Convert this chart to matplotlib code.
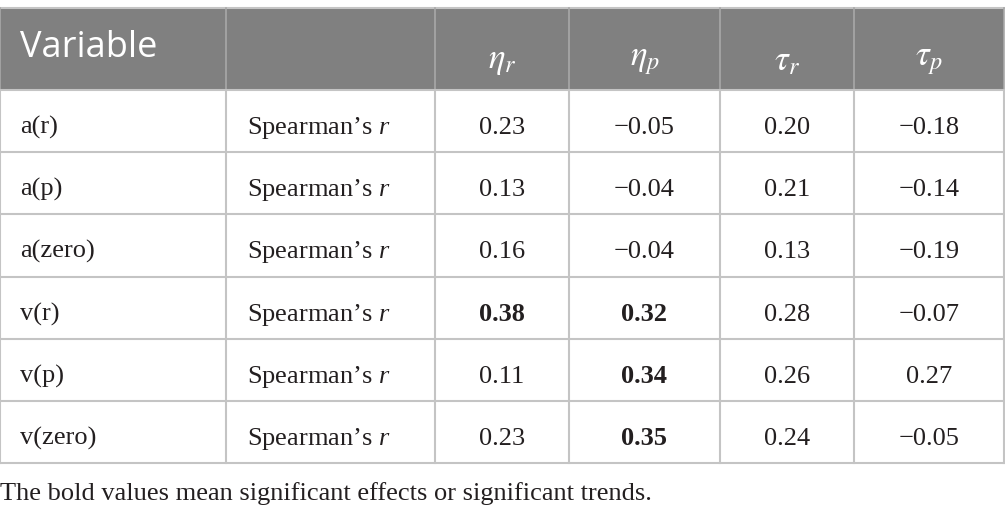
import matplotlib.pyplot as plt
from matplotlib.patches import Rectangle

variables = ["a(r)", "a(p)", "a(zero)", "v(r)", "v(p)", "v(zero)"]
statistic = ["Spearman’s $\\mathit{r}$"] * 6
eta_r = ["0.23", "0.13", "0.16", "0.38", "0.11", "0.23"]
eta_p = ["−0.05", "−0.04", "−0.04", "0.32", "0.34", "0.35"]
tau_r = ["0.20", "0.21", "0.13", "0.28", "0.26", "0.24"]
tau_p = ["−0.18", "−0.14", "−0.19", "−0.07", "0.27", "−0.05"]
bold_cells = {(3, 0), (3, 1), (4, 1), (5, 1)}  # (row, value column)
headers = ["Variable", "", r"$\eta_r$", r"$\eta_p$", r"$\tau_r$", r"$\tau_p$"]
footnote = "The bold values mean significant effects or significant trends."

plt.rcParams["mathtext.fontset"] = "custom"
plt.rcParams["mathtext.rm"] = "Liberation Serif"
plt.rcParams["mathtext.it"] = "Liberation Serif:italic"

col_x = [0, 226, 435, 569, 720, 854, 1004]
row_y = [8, 90, 152, 214, 277, 339, 401, 463]
header_bg = "#808080"
line_col = "#c4c4c4"
text_col = "#231f20"

fig = plt.figure(figsize=(10.05, 5.15), dpi=100)
ax = fig.add_axes([0, 0, 1, 1])
ax.set_xlim(0, 1005)
ax.set_ylim(515, 0)
ax.axis("off")

# header band
ax.add_patch(Rectangle((col_x[0], row_y[0]), col_x[-1] - col_x[0], row_y[1] - row_y[0],
                       facecolor=header_bg, edgecolor="none"))
for i, h in enumerate(headers):
    if i == 0:
        ax.text(col_x[0] + 20, 57, h, color="white", fontsize=26,
                family="Open Sans", va="baseline", ha="left")
    elif h:
        ax.text((col_x[i] + col_x[i + 1]) / 2, 60, h, color="white", fontsize=25,
                math_fontfamily="stix", va="center", ha="center")

# grid lines
for y in row_y:
    ax.plot([col_x[0], col_x[-1]], [y, y], color=line_col, lw=1.5)
for x in col_x:
    ax.plot([x, x], [row_y[0], row_y[1]], color="#a8a8a8", lw=1.2)
    ax.plot([x, x], [row_y[1], row_y[-1]], color=line_col, lw=1.5)

values = [eta_r, eta_p, tau_r, tau_p]
for r in range(len(variables)):
    yb = row_y[r + 1] + 44
    ax.text(col_x[0] + 20, yb, variables[r], fontsize=19, family="Liberation Serif",
            color=text_col, va="baseline", ha="left")
    ax.text(col_x[1] + 21, yb, statistic[r], fontsize=19, family="Liberation Serif",
            color=text_col, va="baseline", ha="left")
    for c, col in enumerate(values):
        xc = (col_x[c + 2] + col_x[c + 3]) / 2
        ax.text(xc, yb, col[r], fontsize=19, family="Liberation Serif", color=text_col,
                fontweight="bold" if (r, c) in bold_cells else "normal",
                va="baseline", ha="center")

ax.text(0, 500, footnote, fontsize=19, family="Liberation Serif", color=text_col,
        va="baseline", ha="left")

fig.savefig("out.png", dpi=100)
